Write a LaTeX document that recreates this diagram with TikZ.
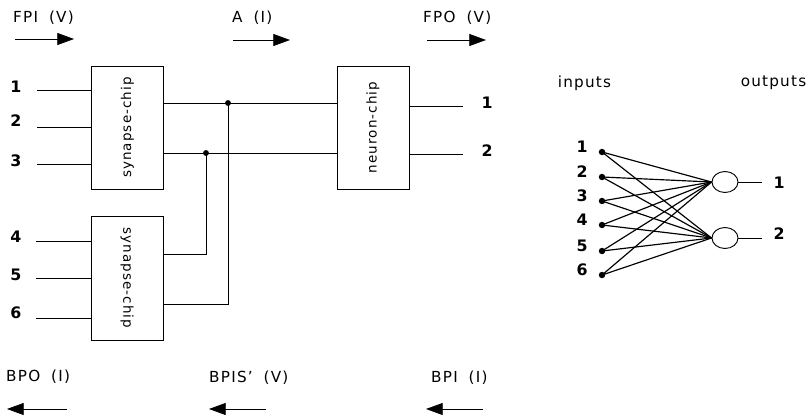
\documentclass[tikz,border=0pt]{standalone}
\usepackage{fontspec}
\setmainfont{DejaVu Sans}[LetterSpace=8, WordSpace=1.8]
\usepackage{graphicx}
\usepackage{tikz}
\usetikzlibrary{arrows.meta,positioning,shapes.geometric}

\begin{document}
\begin{tikzpicture}[x=0.03cm, y=-0.03cm,
  chip/.style={draw, line width=0.75pt, minimum width=2.16cm, minimum height=3.69cm, inner sep=0pt, font=\fontsize{11.5}{13}\selectfont},
  wire/.style={line width=0.65pt},
  flow/.style={-{Triangle[length=0.5cm, width=0.36cm]}, line width=0.6pt},
  lbl/.style={font=\fontsize{13}{15}\selectfont, inner sep=0pt},
  num/.style={font=\bfseries\fontsize{13.5}{15}\selectfont, inner sep=0pt},
  neuron/.style={draw, ellipse, line width=0.8pt, minimum width=0.78cm, minimum height=0.63cm, inner sep=0pt},
  dot/.style={circle, fill, inner sep=0pt, minimum size=5pt}
]
  \useasboundingbox (0,0) rectangle (809,418);

  % chips
  \node[chip] (syn1) at (127.5,127.5) {\rotatebox{90}{synapse-chip}};
  \node[chip, minimum height=3.72cm] (syn2) at (127,278) {\rotatebox{-90}{synapse-chip}};
  \node[chip] (neur) at (373,127.5) {\rotatebox{90}{neuron-chip}};

  % signal flow, forward pass
  \node[lbl, anchor=west] (fpi) at (13,18) {FPI (V)};
  \node[lbl, anchor=west] (act) at (232,18) {A (I)};
  \node[lbl, anchor=west] (fpo) at (423,18) {FPO (V)};
  \coordinate (fpiA) at (15,39);  \coordinate (fpiB) at (74,39);
  \coordinate (actA) at (233,40); \coordinate (actB) at (290,40);
  \coordinate (fpoA) at (427,40); \coordinate (fpoB) at (486,40);
  \draw[flow] (fpiA) -- (fpiB);
  \draw[flow] (actA) -- (actB);
  \draw[flow] (fpoA) -- (fpoB);

  % signal flow, backward pass
  \node[lbl, anchor=west] (bpo) at (6,377) {BPO (I)};
  \node[lbl, anchor=west] (bpis) at (209,378) {BPIS' (V)};
  \node[lbl, anchor=west] (bpi) at (431,378) {BPI (I)};
  \coordinate (bpoA) at (67,409);  \coordinate (bpoB) at (7,409);
  \coordinate (bpisA) at (266,409); \coordinate (bpisB) at (209,409);
  \coordinate (bpiA) at (483,409);  \coordinate (bpiB) at (426,409);
  \draw[flow] (bpoA) -- (bpoB);
  \draw[flow] (bpisA) -- (bpisB);
  \draw[flow] (bpiA) -- (bpiB);

  % inputs
  \foreach \k/\y/\t in {1/90/87,2/127/121,3/164/161} {
    \coordinate (in\k) at (37,\y);
    \node[num] (inl\k) at (16,\t) {\k};
    \draw[wire] (in\k) -- (in\k -| syn1.west);
  }
  \foreach \k/\y/\t in {4/241/237,5/278/275,6/318/313} {
    \coordinate (in\k) at (36,\y);
    \node[num] (inl\k) at (16,\t) {\k};
    \draw[wire] (in\k) -- (in\k -| syn2.west);
  }

  % bus between the chips
  \coordinate (j1) at (228,103); \coordinate (j2) at (206,153);
  \coordinate (b1) at (206,254); \coordinate (b2) at (228,304);
  \draw[wire] (syn1.east |- j1) -- (neur.west |- j1);
  \draw[wire] (syn1.east |- j2) -- (neur.west |- j2);
  \draw[wire, line width=0.8pt] (syn2.east |- b1) -- (b1) -- (j2);
  \draw[wire, line width=0.8pt] (syn2.east |- b2) -- (b2) -- (j1);
  \node[dot] (d1) at (j1) {};
  \node[dot] (d2) at (j2) {};

  % chip outputs
  \coordinate (fo1) at (463,106); \coordinate (fo2) at (463,154);
  \draw[wire] (neur.east |- fo1) -- (fo1);
  \draw[wire] (neur.east |- fo2) -- (fo2);
  \node[num] (fol1) at (487,103) {1};
  \node[num] (fol2) at (487,151) {2};

  % network view
  \node[lbl] (inputs) at (584.5,83) {inputs};
  \node[lbl] (outputs) at (773.5,83) {outputs};
  \node[neuron] (o1) at (725,182) {};
  \node[neuron] (o2) at (725,238) {};
  \foreach \k/\y in {1/152,2/177,3/201,4/225,5/251,6/275} {
    \node[dot, minimum size=5.5pt] (x\k) at (602,\y) {};
    \node[num] (xl\k) at (582,\y-5) {\k};
    \draw[wire, line width=1pt] (x\k.center) -- (o1.west);
    \draw[wire, line width=1pt] (x\k.center) -- (o2.west);
  }
  \coordinate (y1) at (762,182); \coordinate (y2) at (762,238);
  \draw[wire, line width=0.8pt] (o1.east) -- (y1);
  \draw[wire, line width=0.8pt] (o2.east) -- (y2);
  \node[num] (yl1) at (779,183) {1};
  \node[num] (yl2) at (779,234) {2};
\end{tikzpicture}
\end{document}
